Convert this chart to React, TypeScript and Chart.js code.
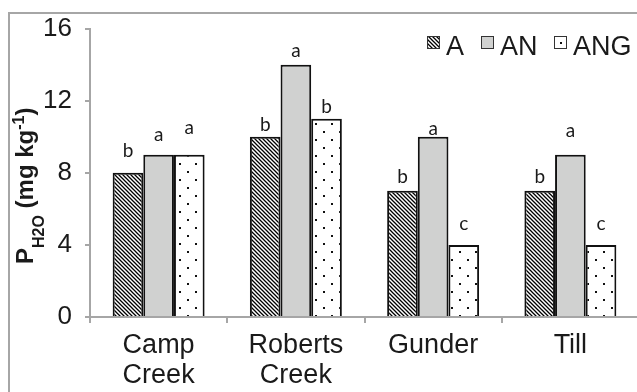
import React, { useEffect, useRef } from "react";
import { Chart, registerables } from "chart.js";

Chart.register(...registerables);

// Sites along the x axis
const sites: (string | string[])[] = [["Camp", "Creek"], ["Roberts", "Creek"], "Gunder", "Till"];

// Water-extractable P (mg kg-1) per treatment
const valuesA = [8, 10, 7, 7];
const valuesAN = [9, 14, 10, 9];
const valuesANG = [9, 11, 4, 4];

// Significance letters and the height (mg kg-1) at which each one sits
const lettersA = ["b", "b", "b", "b"];
const lettersAN = ["a", "a", "a", "a"];
const lettersANG = ["a", "b", "c", "c"];
const letterPosA = [8.9, 10.3, 7.45, 7.45];
const letterPosAN = [9.75, 14.45, 10.1, 10.0];
const letterPosANG = [10.15, 11.3, 4.8, 4.8];

const yTicks = [0, 4, 8, 12, 16];

const AXIS_GRAY = "#a6a6a6";
const INK = "#1a1a1a";
const SANS = "'Liberation Sans', Arial, sans-serif";

function hatchPattern(): CanvasPattern | string {
  const c = document.createElement("canvas");
  c.width = 4;
  c.height = 4;
  const g = c.getContext("2d");
  if (!g) return "#777";
  g.fillStyle = "#ffffff";
  g.fillRect(0, 0, 4, 4);
  g.strokeStyle = "#000000";
  g.lineWidth = 1.3;
  g.beginPath();
  g.moveTo(-1, -1);
  g.lineTo(5, 5);
  g.moveTo(-1, 3);
  g.lineTo(1, 5);
  g.moveTo(3, -1);
  g.lineTo(5, 1);
  g.stroke();
  return g.createPattern(c, "repeat") || "#777";
}

function dotPattern(): CanvasPattern | string {
  const c = document.createElement("canvas");
  c.width = 16;
  c.height = 16;
  const g = c.getContext("2d");
  if (!g) return "#fff";
  g.fillStyle = "#ffffff";
  g.fillRect(0, 0, 16, 16);
  g.fillStyle = "#111111";
  g.fillRect(3, 3, 2, 2);
  g.fillRect(11, 11, 2, 2);
  return g.createPattern(c, "repeat") || "#fff";
}

export default function App() {
  const ref = useRef<HTMLCanvasElement | null>(null);

  useEffect(() => {
    const canvas = ref.current;
    if (!canvas) return;
    const hatch = hatchPattern();
    const dots = dotPattern();
    const letters = [lettersA, lettersAN, lettersANG];
    const letterPos = [letterPosA, letterPosAN, letterPosANG];

    const frame = {
      id: "frame",
      beforeDraw(chart: any) {
        const ctx = chart.ctx;
        ctx.save();
        ctx.fillStyle = "#ffffff";
        ctx.fillRect(0, 0, chart.width, chart.height);
        ctx.strokeStyle = AXIS_GRAY;
        ctx.lineWidth = 2;
        ctx.strokeRect(9, 13, 640, 400);
        ctx.restore();
      },
    };

    const yTitle = {
      id: "yTitle",
      afterDraw(chart: any) {
        const ctx = chart.ctx;
        ctx.save();
        ctx.translate(33, 264);
        ctx.rotate(-Math.PI / 2);
        ctx.fillStyle = INK;
        ctx.textBaseline = "alphabetic";
        const big = `bold 24px ${SANS}`;
        const small = `bold 16px ${SANS}`;
        const runs: [string, string, number][] = [
          ["P", big, 0],
          ["H2O", small, 11],
          [" (mg kg", big, 0],
          ["-1", small, -9],
          [")", big, 0],
        ];
        let x = 0;
        for (const [t, f, dy] of runs) {
          ctx.font = f;
          ctx.fillText(t, x, dy);
          x += ctx.measureText(t).width;
        }
        ctx.restore();
      },
    };

    const sigLetters = {
      id: "sigLetters",
      afterDatasetsDraw(chart: any) {
        const ctx = chart.ctx;
        const y = chart.scales.y;
        ctx.save();
        ctx.fillStyle = INK;
        ctx.font = "19px Lato, 'Open Sans', sans-serif";
        ctx.textAlign = "center";
        ctx.textBaseline = "alphabetic";
        chart.data.datasets.forEach((_: any, i: number) => {
          const meta = chart.getDatasetMeta(i);
          meta.data.forEach((bar: any, j: number) => {
            ctx.fillText(letters[i][j], bar.x, y.getPixelForValue(letterPos[i][j]));
          });
        });
        ctx.restore();
      },
    };

    const legendBoxes = {
      id: "legendBoxes",
      afterDraw(chart: any) {
        const ctx = chart.ctx;
        const starts = [427, 481, 554];
        ctx.save();
        ctx.font = `27px ${SANS}`;
        ctx.textBaseline = "alphabetic";
        ctx.textAlign = "left";
        chart.data.datasets.forEach((ds: any, i: number) => {
          const bx = starts[i];
          const by = 36;
          if (i === 2) {
            ctx.fillStyle = "#ffffff";
            ctx.fillRect(bx, by, 13, 13);
            ctx.fillStyle = "#111";
            ctx.fillRect(bx + 6, by + 6, 2, 2);
          } else {
            ctx.fillStyle = ds.backgroundColor;
            ctx.fillRect(bx, by, 13, 13);
          }
          ctx.strokeStyle = "#333";
          ctx.lineWidth = 1;
          ctx.strokeRect(bx + 0.5, by + 0.5, 12, 12);
          ctx.fillStyle = INK;
          ctx.fillText(ds.label, bx + 19, 55);
        });
        ctx.restore();
      },
    };

    const chart = new Chart(canvas, {
      type: "bar",
      data: {
        labels: sites,
        datasets: [
          { label: "A", data: valuesA, backgroundColor: hatch as any, borderColor: "#111", borderWidth: 2 },
          { label: "AN", data: valuesAN, backgroundColor: "#d0d1d0", borderColor: "#111", borderWidth: 2 },
          { label: "ANG", data: valuesANG, backgroundColor: dots as any, borderColor: "#111", borderWidth: 2 },
        ],
      },
      options: {
        responsive: false,
        animation: false,
        layout: { padding: { left: 0, top: 28, right: 6, bottom: 0 } },
        datasets: { bar: { categoryPercentage: 0.67, barPercentage: 1 } },
        plugins: {
          legend: { display: false },
          tooltip: { enabled: false },
        },
        scales: {
          x: {
            grid: { drawOnChartArea: false, color: AXIS_GRAY, lineWidth: 2, tickLength: 6, offset: true },
            border: { color: AXIS_GRAY, width: 2 },
            ticks: {
              color: INK,
              padding: 8,
              maxRotation: 0,
              autoSkip: false,
              font: { family: SANS, size: 27, lineHeight: 1.1 },
            },
            afterFit(scale: any) {
              scale.height = 75;
            },
          },
          y: {
            min: 0,
            max: 16,
            afterBuildTicks(scale: any) {
              scale.ticks = yTicks.map((v) => ({ value: v }));
            },
            grid: { drawOnChartArea: false, color: AXIS_GRAY, lineWidth: 2, tickLength: 5 },
            border: { color: AXIS_GRAY, width: 2 },
            ticks: {
              color: INK,
              padding: 13,
              font: { family: SANS, size: 26 },
            },
            afterFit(scale: any) {
              scale.width = 90;
            },
          },
        },
      },
      plugins: [frame, sigLetters, yTitle, legendBoxes],
    });
    return () => chart.destroy();
  }, []);

  return (
    <div style={{ position: "absolute", left: 0, top: 0, width: 637, height: 392, overflow: "hidden", background: "#fff" }}>
      <canvas ref={ref} width={645} height={392} style={{ display: "block" }} />
    </div>
  );
}
